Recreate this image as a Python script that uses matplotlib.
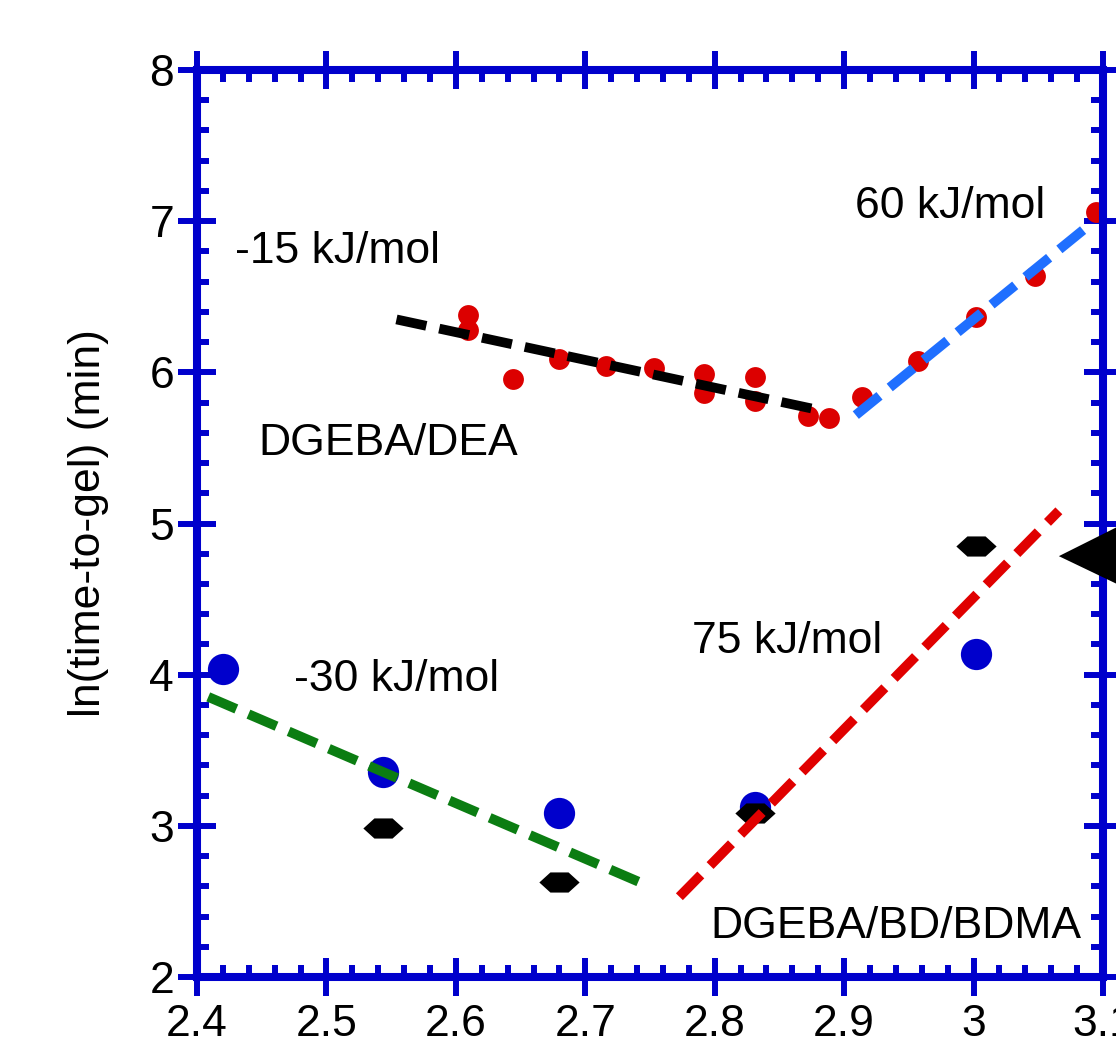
import matplotlib
matplotlib.use("Agg")
import matplotlib.pyplot as plt
from matplotlib.path import Path
from matplotlib.patches import Polygon
from matplotlib.ticker import MultipleLocator, FuncFormatter

plt.rcParams['font.family'] = ['Liberation Sans', 'DejaVu Sans']
plt.rcParams['lines.scale_dashes'] = False

# ---- data ----
# DGEBA/DEA (red dots)
dea_x = [2.6093, 2.6093, 2.6441, 2.6796, 2.7161, 2.7534, 2.7920, 2.7920,
         2.8313, 2.8313, 2.8717, 2.8884, 2.9137, 2.9573, 3.0016, 3.0474, 3.0947]
dea_y = [6.378, 6.279, 5.955, 6.085, 6.041, 6.030, 5.986, 5.865,
         5.970, 5.811, 5.710, 5.695, 5.838, 6.074, 6.367, 6.636, 7.062]
# DGEBA/BD/BDMA (blue dots)
bd_blue_x = [2.4203, 2.5438, 2.6796, 2.8313, 3.0016]
bd_blue_y = [4.035, 3.358, 3.087, 3.126, 4.136]
# DGEBA/BD/BDMA (black hexagons)
bd_hex_x = [2.5438, 2.6796, 2.8313, 3.0016]
bd_hex_y = [2.983, 2.630, 3.083, 4.853]

# fitted lines (endpoints)
fit_m15_x = [2.5541, 2.8846]; fit_m15_y = [6.350, 5.743]
fit_60_x = [2.9090, 3.0852];  fit_60_y = [5.717, 6.945]
fit_m30_x = [2.4087, 2.7418]; fit_m30_y = [3.853, 2.628]
fit_75_x = [2.7727, 3.0659];  fit_75_y = [2.531, 5.084]

# arrow head at right edge
arrow_x = [3.0659, 3.1739, 3.1739]
arrow_y = [4.784, 5.247, 4.341]

xlim = (2.4, 3.1)
ylim = (2, 8)

fig = plt.figure(figsize=(11.16, 10.46), dpi=100)
ax = fig.add_axes([197/1116, 69/1046, 906/1116, 907/1046])
ax.set_xlim(*xlim)
ax.set_ylim(*ylim)

axis_blue = '#0000CC'
fs = 32

# markers
ax.plot(bd_blue_x, bd_blue_y, 'o', color='#0000CC', markersize=22.5,
        markeredgewidth=0, zorder=3)
hexa = Path([(-1, 0), (-0.45, 0.5), (0.45, 0.5), (1, 0), (0.45, -0.5),
             (-0.45, -0.5), (-1, 0)], closed=True)
ax.plot(bd_hex_x, bd_hex_y, linestyle='none', marker=hexa, color='black',
        markersize=29, markeredgewidth=0, zorder=4)
ax.plot(dea_x, dea_y, 'o', color='#DC0000', markersize=15,
        markeredgewidth=0, zorder=3)

# fit lines
dash = (22, 9.5)
lw = 7
for xs, ys, c in [(fit_m15_x, fit_m15_y, 'black'),
                  (fit_60_x, fit_60_y, '#1F6FFF'),
                  (fit_m30_x, fit_m30_y, '#0B7D12'),
                  (fit_75_x, fit_75_y, '#E00000')]:
    ln, = ax.plot(xs, ys, color=c, lw=lw, zorder=5, dash_capstyle='butt')
    ln.set_dashes(dash)

# arrow head
tri = Polygon(list(zip(arrow_x, arrow_y)), closed=True, facecolor='black',
              edgecolor='none', clip_on=False, zorder=10)
ax.add_patch(tri)

# annotations
ax.text(2.4295, 6.722, '-15 kJ/mol', fontsize=fs, va='baseline', ha='left')
ax.text(2.9085, 7.020, '60 kJ/mol', fontsize=fs, va='baseline', ha='left')
ax.text(2.4473, 5.452, 'DGEBA/DEA', fontsize=fs, va='baseline', ha='left')
ax.text(2.4747, 3.894, '-30 kJ/mol', fontsize=fs, va='baseline', ha='left')
ax.text(2.7822, 4.143, '75 kJ/mol', fontsize=fs, va='baseline', ha='left')
ax.text(2.7964, 2.256, 'DGEBA/BD/BDMA', fontsize=fs, va='baseline', ha='left')

# axes styling
for s in ax.spines.values():
    s.set_color(axis_blue)
    s.set_linewidth(5.8)
    s.set_zorder(6)

ax.xaxis.set_major_locator(MultipleLocator(0.1))
ax.xaxis.set_minor_locator(MultipleLocator(0.02))
ax.yaxis.set_major_locator(MultipleLocator(1))
ax.yaxis.set_minor_locator(MultipleLocator(0.2))

def xfmt(v, pos):
    s = f'{v:.1f}'
    if s.endswith('.0'):
        s = s[:-2]
    return s
ax.xaxis.set_major_formatter(FuncFormatter(xfmt))
ax.yaxis.set_major_formatter(FuncFormatter(lambda v, p: f'{v:.0f}'))

ax.tick_params(which='major', direction='inout', length=27, width=4.3,
               color=axis_blue, top=True, right=True, labelsize=fs)
ax.tick_params(axis='x', which='major', pad=6)
ax.tick_params(axis='y', which='major', pad=3)
ax.tick_params(which='minor', direction='in', length=8.5, width=4.3,
               color=axis_blue, top=True, right=True)

ax.set_ylabel('ln(time-to-gel) (min)', fontsize=fs, va='center')
ax.yaxis.set_label_coords(-0.120, 0.5)

fig.savefig('out.png', dpi=100)
